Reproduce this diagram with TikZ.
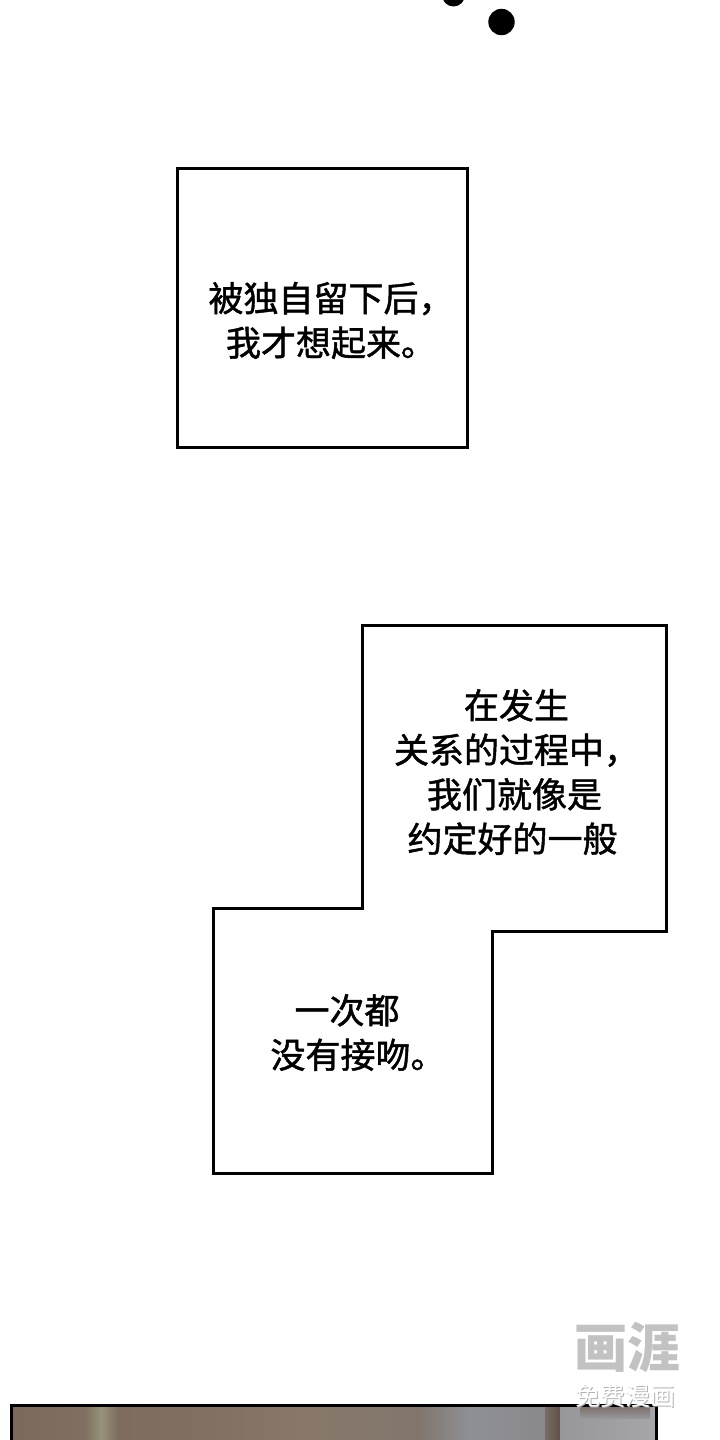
\documentclass[tikz,border=0pt]{standalone}
\usepackage{fontspec}
\newfontfamily\cjk[FakeBold=1.3]{Noto Sans CJK SC}
\newfontfamily\cjklight{Noto Sans CJK SC}
\begin{document}
\begin{tikzpicture}[x=1pt,y=-1pt,
  panel/.style={draw=black,line width=3pt,line join=miter},
  speech/.style={font=\cjk\fontsize{35}{44.5}\selectfont,align=center,inner sep=0pt,text=black},
  dot/.style={fill=black},
  wmbig/.style={font=\cjklight\bfseries\fontsize{53}{53}\selectfont,text=black!24,inner sep=0pt},
  wmsmall/.style={font=\cjklight\fontsize{25}{25}\selectfont,inner sep=0pt}]
\useasboundingbox[fill=white] (0,0) rectangle (720,1440);
% dots
\fill[dot] (453.5,-5) circle (11.5);
\fill[dot] (501.5,22) circle (13.2);
% first panel
\draw[panel] (177,168) rectangle (467,447);
\node[speech] (t1) at (331,320.5) {被独自留下后，\\我才想起来。};
% composite panel
\draw[panel] (362,625) -- (666,625) -- (666,931) -- (492,931) -- (492,1173) -- (213,1173) -- (213,908) -- (362,908) -- cycle;
\node[speech] (t2) at (516.5,772) {在发生\\关系的过程中，\\\hspace*{-4pt}我们就像是\\\hspace*{-4pt}约定好的一般\hspace*{4pt}};
\node[speech] (t3) at (352,1032.5) {一次都\hspace*{10pt}\\\hspace*{12pt}没有接吻。};
% bottom panel
\begin{scope}
\clip (11.5,1405.5) rectangle (656,1441);
\shade[left color={rgb,255:red,122;green,106;blue,92}, right color={rgb,255:red,128;green,112;blue,98}] (11,1405) rectangle (85,1441);
\shade[left color={rgb,255:red,128;green,112;blue,98}, right color={rgb,255:red,125;green,108;blue,95}, middle color={rgb,255:red,150;green,148;blue,122}] (85,1405) rectangle (118,1441);
\shade[left color={rgb,255:red,125;green,108;blue,95}, right color={rgb,255:red,128;green,112;blue,100}] (118,1405) rectangle (200,1441);
\shade[left color={rgb,255:red,128;green,112;blue,100}, right color={rgb,255:red,136;green,120;blue,106}] (200,1405) rectangle (300,1441);
\shade[left color={rgb,255:red,136;green,120;blue,106}, right color={rgb,255:red,130;green,118;blue,108}] (300,1405) rectangle (420,1441);
\shade[left color={rgb,255:red,130;green,118;blue,108}, right color={rgb,255:red,142;green,144;blue,150}] (420,1405) rectangle (470,1441);
\shade[left color={rgb,255:red,142;green,144;blue,150}, right color={rgb,255:red,138;green,136;blue,140}] (470,1405) rectangle (545,1441);
\shade[left color={rgb,255:red,120;green,108;blue,100}, right color={rgb,255:red,95;green,80;blue,70}] (545,1405) rectangle (560,1441);
\shade[left color={rgb,255:red,150;green,150;blue,155}, right color={rgb,255:red,165;green,165;blue,170}] (560,1405) rectangle (656,1441);
\shade[top color={rgb,255:red,120;green,106;blue,98}, bottom color={rgb,255:red,150;green,150;blue,155}] (580,1405) rectangle (650,1418);
\end{scope}
\draw[panel] (11.5,1405.5) -- (656,1405.5);
\draw[panel] (11.5,1404) -- (11.5,1441);
\draw[panel] (656,1404) -- (656,1441);
% watermark
\node[wmbig] (wm1) at (627,1347) {画涯};
\node[wmsmall,text=black!30] at (626.5,1397) {免费漫画};
\node[wmsmall,text=white] (wm2) at (625.5,1396) {免费漫画};
\end{tikzpicture}
\end{document}
